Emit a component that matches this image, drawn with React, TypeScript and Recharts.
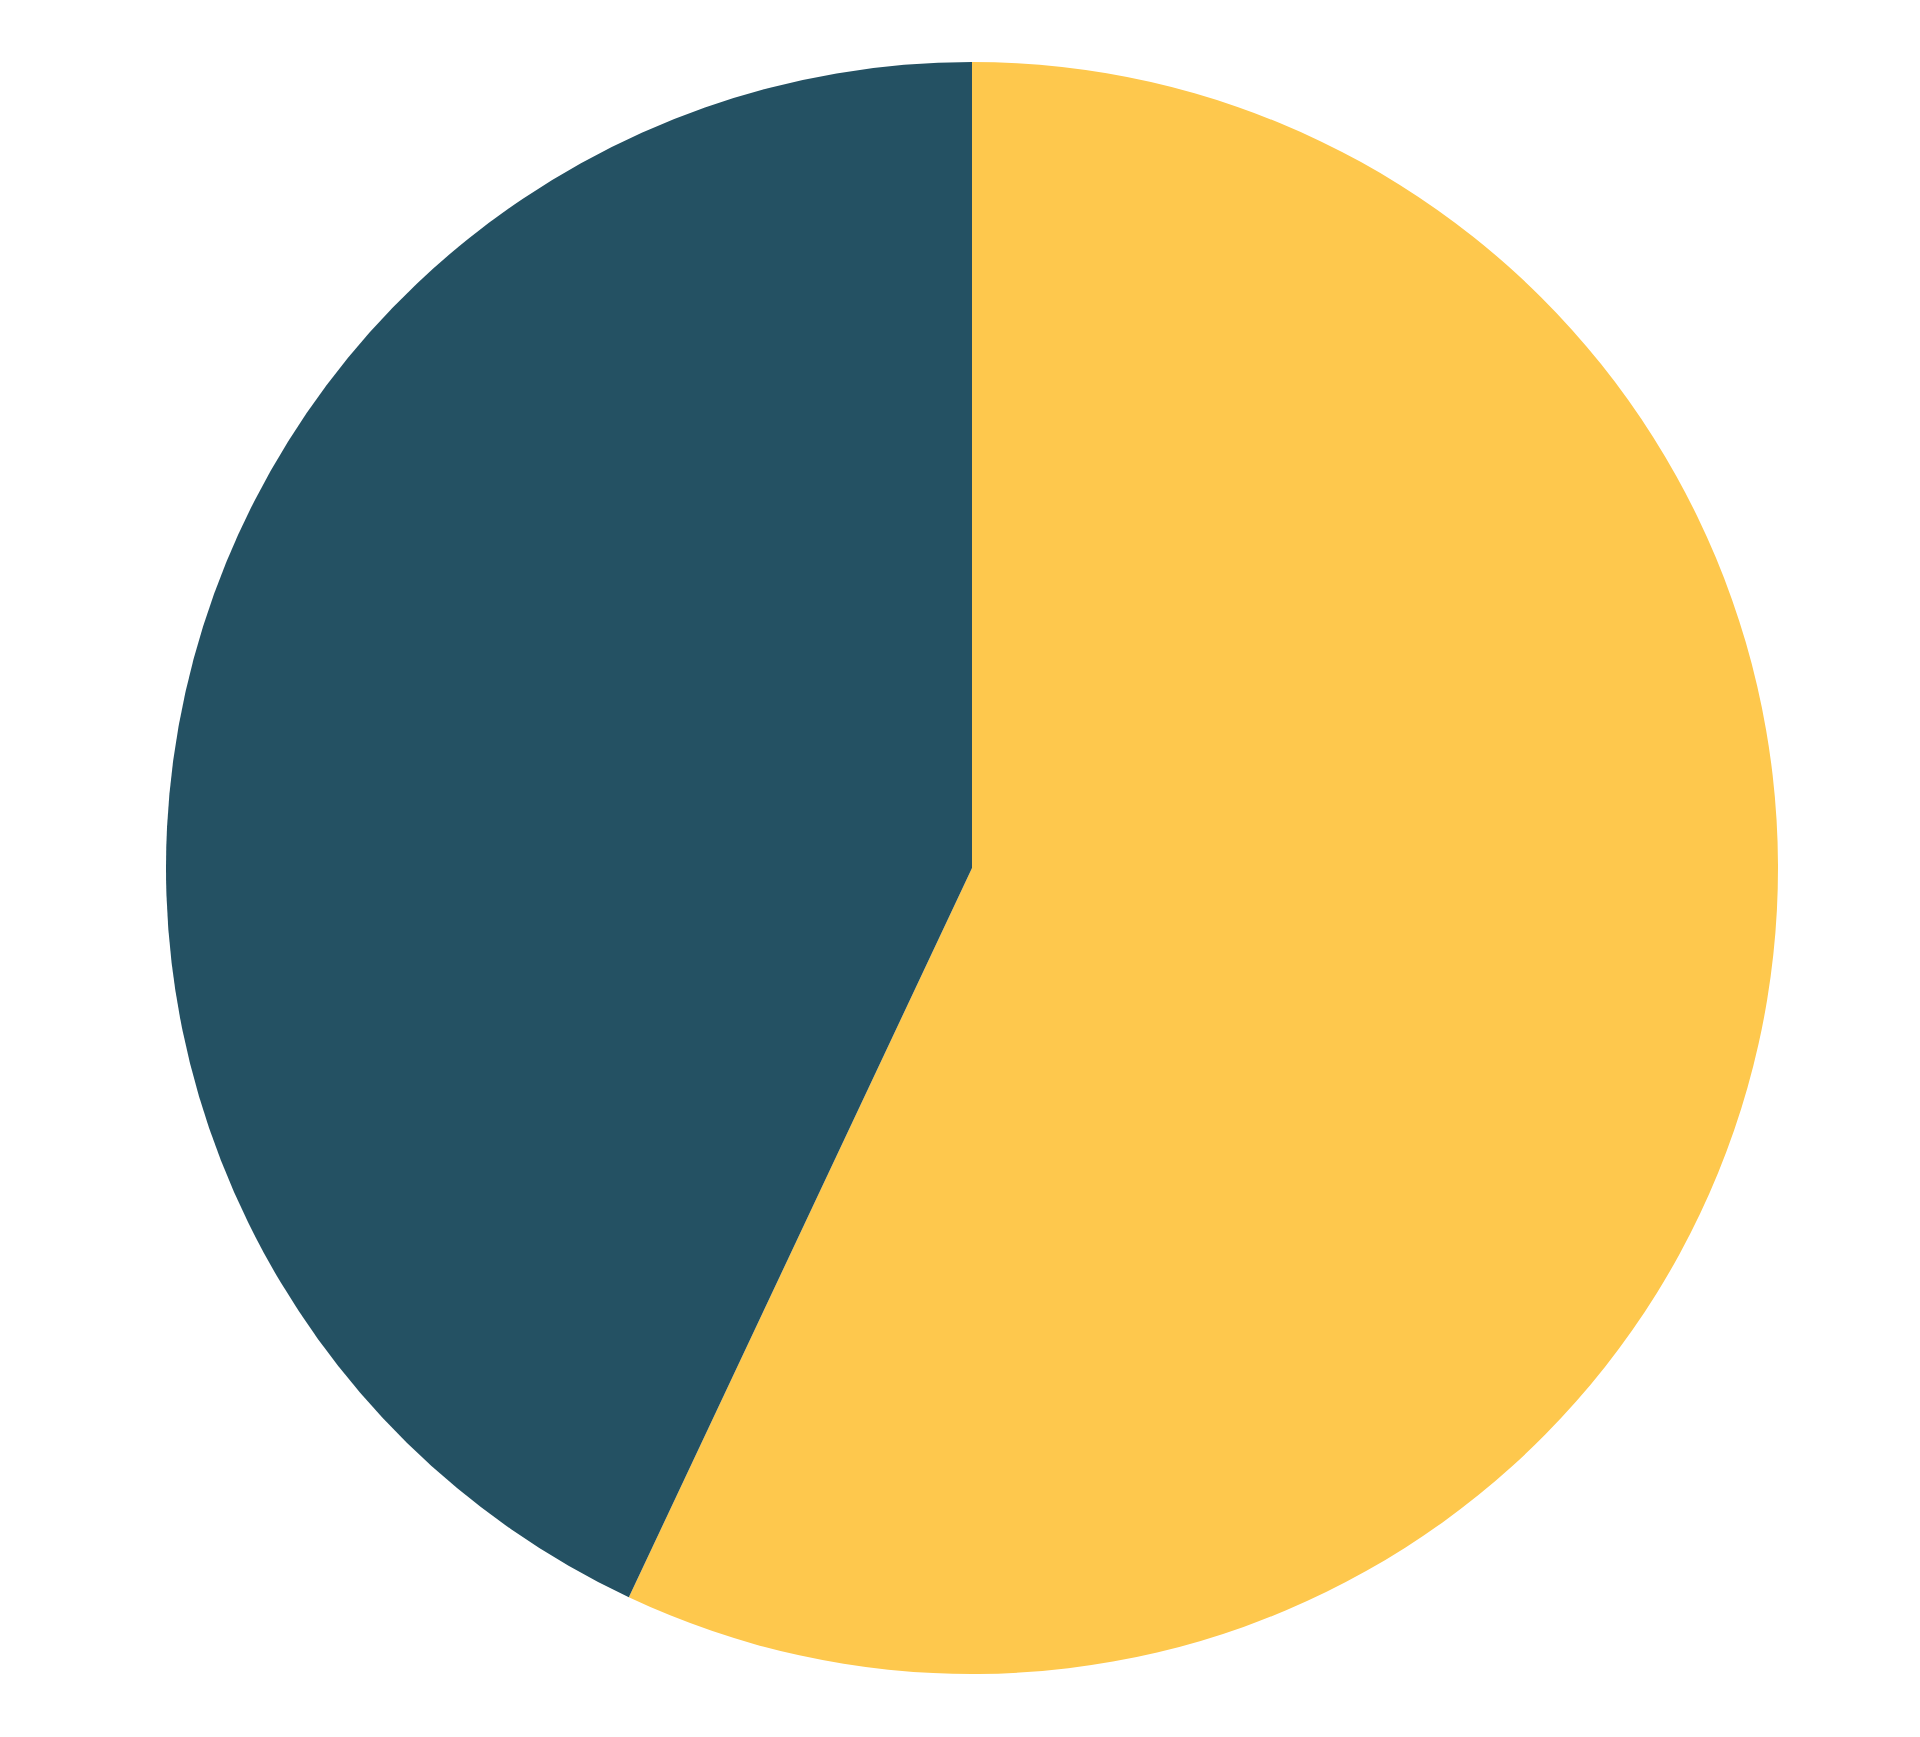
import { PieChart, Pie, Cell } from 'recharts';

const LABELS = ['Yes', 'No'];
const VALUES = [57, 43];
const COLORS = ['#FEC84D', '#245163'];

const data = LABELS.map((name, i) => ({ name, value: VALUES[i] }));

export default function App() {
  return (
    <div style={{ position: 'absolute', left: 0, top: 0, width: 1920, height: 1737, background: '#fff' }}>
      <PieChart width={1920} height={1737} margin={{ top: 0, right: 0, bottom: 0, left: 0 }}>
        <Pie
          data={data}
          dataKey="value"
          cx={972}
          cy={868}
          innerRadius={0}
          outerRadius={806}
          startAngle={90}
          endAngle={-270}
          stroke="none"
          isAnimationActive={false}
        >
          {data.map((_, index) => (
            <Cell key={`cell-${index}`} fill={COLORS[index % COLORS.length]} />
          ))}
        </Pie>
      </PieChart>
    </div>
  );
}
